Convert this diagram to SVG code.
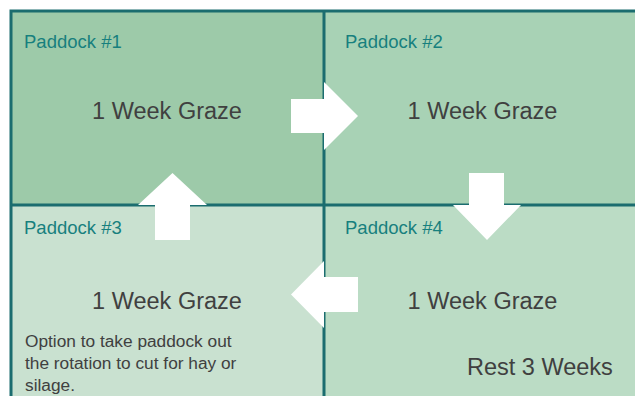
<svg xmlns="http://www.w3.org/2000/svg" width="635" height="396" viewBox="0 0 635 396">
<style>
.lbl{font-family:"Liberation Sans",Arial,sans-serif;font-size:18.5px;fill:#17807e}
.big{font-family:"Liberation Sans",Arial,sans-serif;font-size:23.5px;fill:#404040}
.note{font-family:"Liberation Sans",Arial,sans-serif;font-size:17.3px;fill:#404040}
.line{stroke:#1b6d6f;stroke-width:3;fill:none}
.arrow{fill:#ffffff}
</style>
<rect width="635" height="396" fill="#ffffff"/>
<g id="paddock1">
<rect x="11" y="11" width="313" height="194" fill="#9dcaa9"/>
</g>
<g id="paddock2">
<rect x="324" y="11" width="320" height="194" fill="#a8d2b5"/>
</g>
<g id="paddock3">
<rect x="11" y="205" width="313" height="200" fill="#c9e1d0"/>
</g>
<g id="paddock4">
<rect x="324" y="205" width="320" height="200" fill="#bbdcc5"/>
</g>
<g id="borders">
<rect class="line" x="11" y="11" width="640" height="400"/>
<line class="line" x1="324" y1="11" x2="324" y2="396"/>
<line class="line" x1="11" y1="205" x2="635" y2="205"/>
</g>
<g id="connectors">
<polygon class="arrow" points="291,99 324,99 324,82 358,116 324,150 324,133 291,133"/>
<polygon class="arrow" points="469,173 504,173 504,205 521,205 487,240 453,205 469,205"/>
<polygon class="arrow" points="358,277 358,312 324,312 324,328 291,294.5 324,261 324,277"/>
<polygon class="arrow" points="155,240 190,240 190,205 207,205 172.5,173 138,205 155,205"/>
</g>
<g id="paddock1-text">
<text class="lbl" x="24" y="48">Paddock #1</text>
<text class="big" x="167" y="119" text-anchor="middle">1 Week Graze</text>
</g>
<g id="paddock2-text">
<text class="lbl" x="345" y="48">Paddock #2</text>
<text class="big" x="482.5" y="119" text-anchor="middle">1 Week Graze</text>
</g>
<g id="paddock3-text">
<text class="lbl" x="24" y="234">Paddock #3</text>
<text class="big" x="167" y="309" text-anchor="middle">1 Week Graze</text>
<text class="note" x="25" y="347">Option to take paddock out</text>
<text class="note" x="25" y="369">the rotation to cut for hay or</text>
<text class="note" x="25" y="391">silage.</text>
</g>
<g id="paddock4-text">
<text class="lbl" x="345" y="234">Paddock #4</text>
<text class="big" x="482.5" y="309" text-anchor="middle">1 Week Graze</text>
<text class="big" x="467" y="375">Rest 3 Weeks</text>
</g>
</svg>
